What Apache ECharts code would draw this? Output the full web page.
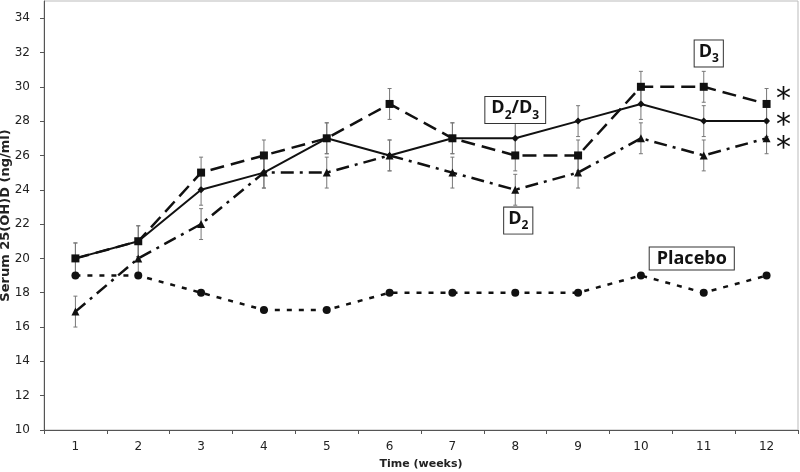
<!DOCTYPE html>
<html><head><meta charset="utf-8">
<script src="https://cdn.jsdelivr.net/npm/echarts@6/dist/echarts.min.js"></script>
<style>html,body{margin:0;padding:0;background:#fff}#c{width:800px;height:472px}</style>
</head><body><div id="c"></div>
<script>
const weeks = ['1','2','3','4','5','6','7','8','9','10','11','12'];
const yTicks = [10,12,14,16,18,20,22,24,26,28,30,32,34];
const d2d3 = [20, 21, 24, 25, 27, 26, 27, 27, 28, 29, 28, 28];
const d3 = [20, 21, 25, 26, 27, 29, 27, 26, 26, 30, 30, 29];
const d2 = [16.9, 20, 22, 25, 25, 26, 25, 24, 25, 27, 26, 27];
const placebo = [19, 19, 18, 17, 17, 18, 18, 18, 18, 19, 18, 19];
const errD2D3 = [0.9, 0.9, 0.9, 0.9, 0.9, 0.9, 0.9, 0.9, 0.9, 0.9, 0.9, 0.9];
const errD3 = [0.9, 0.9, 0.9, 0.9, 0.9, 0.9, 0.9, 0.9, 0.9, 0.9, 0.9, 0.9];
const errD2 = [0.9, 0.9, 0.9, 0.9, 0.9, 0.9, 0.9, 0.9, 0.9, 0.9, 0.9, 0.9];

const INK = '#111';
const boxFont = 'Open Sans';

function errSeries(name, vals, errs) {
  return {
    type: 'custom', name: name + ' err', silent: true, z: 1,
    data: vals.map((v, i) => [i, v - errs[i], v + errs[i]]),
    encode: { x: 0, y: [1, 2] },
    renderItem: function (params, api) {
      const x = api.value(0);
      const lo = api.coord([x, api.value(1)]);
      const hi = api.coord([x, api.value(2)]);
      const w = 2;
      const st = { stroke: '#777', lineWidth: 1 };
      return { type: 'group', children: [
        { type: 'line', shape: { x1: lo[0], y1: lo[1], x2: hi[0], y2: hi[1] }, style: st },
        { type: 'line', shape: { x1: lo[0] - w, y1: lo[1], x2: lo[0] + w, y2: lo[1] }, style: st },
        { type: 'line', shape: { x1: hi[0] - w, y1: hi[1], x2: hi[0] + w, y2: hi[1] }, style: st }
      ]};
    }
  };
}

function boxLabel(text) {
  return {
    show: true, position: 'inside', formatter: text, color: INK,
    backgroundColor: '#fff', borderColor: '#333', borderWidth: 1,
    padding: [2, 6, 2, 6],
    rich: {
      d: { fontFamily: boxFont, fontSize: 18, fontWeight: 'bold', color: INK, lineHeight: 22, verticalAlign: 'top' },
      s: { fontFamily: boxFont, fontSize: 12, fontWeight: 'bold', color: INK, lineHeight: 12, verticalAlign: 'bottom', padding: [11, 0, 0, 0] }
    }
  };
}
function star(offsetY) {
  return { show: true, position: 'inside', formatter: '*', color: INK, fontFamily: 'DejaVu Sans',
    fontSize: 30, offset: [17, offsetY] };
}
function mp(coord, label) {
  return { coord: coord, symbol: 'rect', symbolSize: 1, itemStyle: { color: 'rgba(0,0,0,0)' }, label: label };
}

const chart = echarts.init(document.getElementById('c'));
chart.setOption({
  backgroundColor: '#fff',
  animation: false,
  grid: { left: 44, right: 2, top: 1, bottom: 42, show: true, borderColor: '#bbb', borderWidth: 1,
          containLabel: false, outerBoundsMode: 'none' },
  xAxis: {
    type: 'category', data: weeks, boundaryGap: true,
    name: 'Time (weeks)', nameLocation: 'middle', nameGap: 29, nameMoveOverlap: false,
    nameTextStyle: { fontFamily: 'DejaVu Sans', fontSize: 11, fontWeight: 'bold', color: '#222' },
    axisLine: { lineStyle: { color: '#555', width: 1 } },
    axisTick: { show: true, length: 4, lineStyle: { color: '#555' } },
    axisLabel: { fontFamily: 'DejaVu Sans', fontSize: 12, color: '#222', margin: 11 },
    splitLine: { show: false }
  },
  yAxis: {
    type: 'value', min: 10, max: 35, interval: 2,
    name: 'Serum 25(OH)D (ng/ml)', nameLocation: 'middle', nameGap: 32, nameMoveOverlap: false,
    nameTextStyle: { fontFamily: 'DejaVu Sans', fontSize: 13, fontWeight: 'bold', color: '#222' },
    axisLine: { show: true, lineStyle: { color: '#555', width: 1 } },
    axisTick: { show: true, length: 4, customValues: yTicks, lineStyle: { color: '#555' } },
    axisLabel: { fontFamily: 'DejaVu Sans', fontSize: 12, color: '#222', margin: 14, customValues: yTicks },
    splitLine: { show: false }
  },
  series: [
    errSeries('D3', d3, errD3),
    errSeries('D2/D3', d2d3, errD2D3),
    errSeries('D2', d2, errD2),
    {
      name: 'Placebo', type: 'line', data: placebo, z: 3,
      symbol: 'circle', symbolSize: 8, itemStyle: { color: INK },
      lineStyle: { color: INK, width: 2.5, type: [5, 7] },
      markPoint: { silent: true, data: [ mp(['11', 20.05], Object.assign(boxLabel('Placebo'), { offset: [-12, 1], fontFamily: boxFont, fontSize: 18, fontWeight: 'bold', padding: [2, 7, 2, 7] })) ] }
    },
    {
      name: 'D2', type: 'line', data: d2, z: 4,
      symbol: 'triangle', symbolSize: 8, itemStyle: { color: INK },
      lineStyle: { color: INK, width: 2.5, type: [13, 6, 3, 6] },
      markPoint: { silent: true, data: [
        mp(['8', 22.26], Object.assign(boxLabel('{d|D}{s|2}'), { offset: [3, 1], padding: [2, 4, 2, 4] })),
        mp(['12', 27], star(11))
      ] }
    },
    {
      name: 'D3', type: 'line', data: d3, z: 5,
      symbol: 'rect', symbolSize: 8, itemStyle: { color: INK },
      lineStyle: { color: INK, width: 2.5, type: [14, 7] },
      markPoint: { silent: true, data: [
        mp(['11', 32.0], Object.assign(boxLabel('{d|D}{s|3}'), { offset: [5, 1], padding: [2, 4, 2, 4] })),
        mp(['12', 29], star(-4))
      ] }
    },
    {
      name: 'D2/D3', type: 'line', data: d2d3, z: 6,
      symbol: 'diamond', symbolSize: 7, itemStyle: { color: INK },
      lineStyle: { color: INK, width: 2 },
      markPoint: { silent: true, data: [
        mp(['8', 28.7], Object.assign(boxLabel('{d|D}{s|2}{d|/D}{s|3}'), { offset: [0, 1] })),
        mp(['12', 28], star(5))
      ] }
    }
  ]
});
</script>
</body></html>
